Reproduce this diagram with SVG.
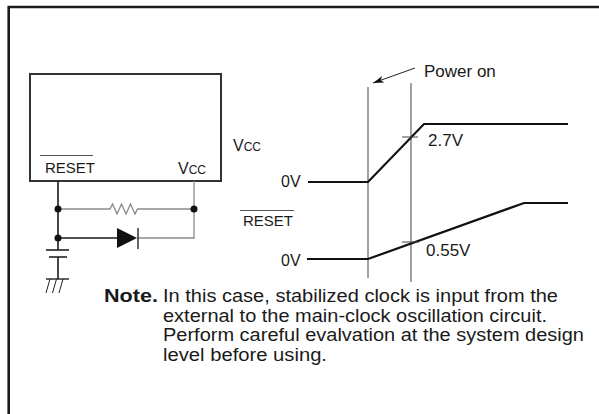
<svg xmlns="http://www.w3.org/2000/svg" width="599" height="414" viewBox="0 0 599 414">
<defs>
<style>
text{font-family:"Liberation Sans",Arial,sans-serif;fill:#1a1a1a}
.lbl{font-size:16px}
.note{font-size:17.5px}
.blk{stroke:#1a1a1a;fill:none;stroke-width:1.6}
.gry{stroke:#8a8a8a;fill:none;stroke-width:1.3}
.wave{stroke:#111;fill:none;stroke-width:2.2}
.thin{stroke:#444;fill:none;stroke-width:1}
.dot{fill:#111}
</style>
<marker id="ah" markerWidth="12" markerHeight="8" refX="11" refY="4" orient="auto" markerUnits="userSpaceOnUse">
<path d="M0,0.5 L11,4 L0,7.5 L3,4 Z" fill="#111"/>
</marker>
</defs>
<rect width="599" height="414" fill="#fff"/>
<g id="frame">
<path d="M8.7,414 V7 H599" stroke="#1a1a1a" stroke-width="2.6" fill="none"/>
</g>
<g id="ic">
<rect x="30" y="74" width="191" height="107" fill="none" stroke="#333" stroke-width="2"/>
<text class="lbl" x="45" y="173" style="font-size:15px">RESET</text>
<line x1="40" y1="155.5" x2="93" y2="155.5" stroke="#555" stroke-width="1"/>
<text x="178" y="174"><tspan style="font-size:16px">V</tspan><tspan style="font-size:12px">CC</tspan></text>
</g>
<g id="connectors">
<path class="blk" d="M58,181 V250"/>
<path class="gry" d="M194,181 V238 H138"/>
<path class="gry" d="M58,209 H110 L112.5,204 L117,214 L121.5,204 L126,214 L130.5,204 L135,214 L137.5,209 H194"/>
<path class="blk" d="M58,238 H117"/>
<path class="blk" d="M58,257 V279"/>
</g>
<g id="diode">
<path d="M117,228 L117,248 L137,238 Z" fill="#111"/>
<line x1="138" y1="228" x2="138" y2="249" stroke="#111" stroke-width="1.3"/>
</g>
<g id="capacitor">
<line x1="46" y1="250" x2="69" y2="250" stroke="#222" stroke-width="1.6"/>
<line x1="49" y1="257" x2="67" y2="257" stroke="#222" stroke-width="1.6"/>
</g>
<g id="ground">
<line x1="46" y1="279" x2="69" y2="279" stroke="#222" stroke-width="1.4"/>
<path d="M50,279 L46,293 M56.5,279 L52.5,293 M63,279 L59,293" stroke="#222" stroke-width="1" fill="none"/>
</g>
<g id="dots">
<circle class="dot" cx="58" cy="209" r="3.5"/>
<circle class="dot" cx="194" cy="209" r="3.5"/>
<circle class="dot" cx="58" cy="238" r="3.5"/>
</g>
<g id="timing">
<text x="233" y="151"><tspan style="font-size:16px">V</tspan><tspan style="font-size:12px">CC</tspan></text>
<text class="lbl" x="281" y="187">0V</text>
<text class="lbl" x="243" y="226" style="font-size:15px">RESET</text>
<line x1="240" y1="210.5" x2="294" y2="210.5" stroke="#555" stroke-width="1"/>
<text class="lbl" x="281" y="266">0V</text>
<line class="thin" x1="368" y1="87" x2="368" y2="278"/>
<line class="thin" x1="411" y1="83" x2="411" y2="282"/>
<path class="wave" d="M308,182 H368 L424,124 H568"/>
<path class="wave" d="M307,259 H368 L524,203 H568"/>
<line class="thin" x1="402" y1="137" x2="418" y2="137"/>
<line class="thin" x1="402" y1="242" x2="419" y2="242"/>
<text class="lbl" x="428" y="146" style="font-size:17px">2.7V</text>
<text class="lbl" x="426" y="256" style="font-size:17px">0.55V</text>
<line x1="415" y1="68" x2="373" y2="83" stroke="#222" stroke-width="1" marker-end="url(#ah)"/>
<text x="424" y="77" style="font-size:17px">Power on</text>
</g>
<g id="note">
<text class="note" x="104" y="302" font-weight="bold" textLength="54" lengthAdjust="spacingAndGlyphs">Note.</text>
<text class="note" x="163" y="302" textLength="395" lengthAdjust="spacingAndGlyphs">In this case, stabilized clock is input from the</text>
<text class="note" x="163" y="321.5" textLength="384" lengthAdjust="spacingAndGlyphs">external to the main-clock oscillation circuit.</text>
<text class="note" x="163" y="341" textLength="421" lengthAdjust="spacingAndGlyphs">Perform careful evalvation at the system design</text>
<text class="note" x="163" y="360.5" textLength="164" lengthAdjust="spacingAndGlyphs">level before using.</text>
</g>
</svg>
